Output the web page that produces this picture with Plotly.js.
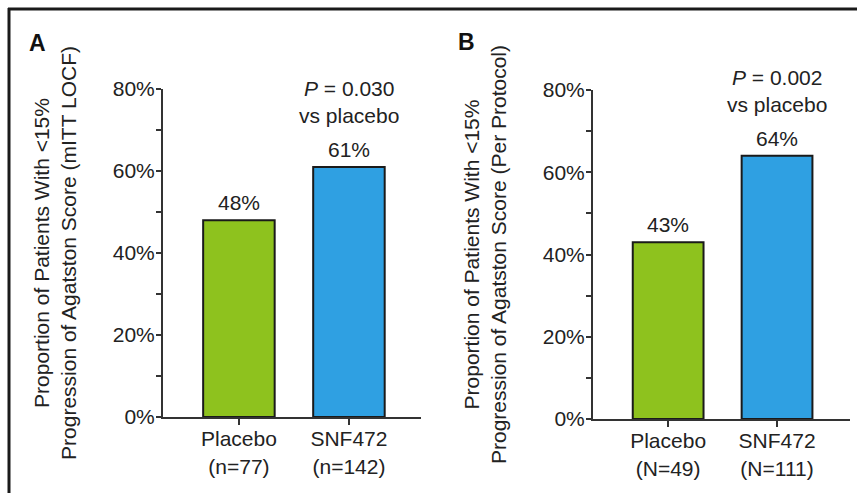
<!DOCTYPE html>
<html>
<head>
<meta charset="utf-8">
<script src="https://cdn.plot.ly/plotly-3.0.1.min.js"></script>
<style>html,body{margin:0;padding:0;background:#fff;}</style>
</head>
<body>
<div id="chart" style="width:857px;height:493px;"></div>
<script>
// ---- Data ----
const groupsA = ['Placebo<br>(n=77)', 'SNF472<br>(n=142)'];
const valuesA = [48, 61];
const groupsB = ['Placebo<br>(N=49)', 'SNF472<br>(N=111)'];
const valuesB = [43, 64];
const pValueA = '<i>P</i> = 0.030<br>vs placebo';
const pValueB = '<i>P</i> = 0.002<br>vs placebo';
const yTitleA = 'Proportion of Patients With &lt;15%<br>Progression of Agatston Score (mITT LOCF)';
const yTitleB = 'Proportion of Patients With &lt;15%<br>Progression of Agatston Score (Per Protocol)';
const yTicks = [0, 20, 40, 60, 80];
const yTickLabels = ['0%', '20%', '40%', '60%', '80%'];
const barColors = ['#8EC21E', '#2FA0E2'];

const FONT = '"Liberation Sans", Arial, Helvetica, sans-serif';
const TXT = '#222222';
const FS = 21;

const traces = [
  {type:'bar', x: groupsA, y: valuesA, xaxis:'x', yaxis:'y', width:0.65,
   marker:{color: barColors, line:{color:'#1a1a1a', width:2}}, hoverinfo:'none', showlegend:false},
  {type:'bar', x: groupsB, y: valuesB, xaxis:'x2', yaxis:'y2', width:0.65,
   marker:{color: barColors, line:{color:'#1a1a1a', width:2}}, hoverinfo:'none', showlegend:false}
];

function yAxis(domain, title, anchor){
  return {
    domain: domain, anchor: anchor, range:[0,80], tickmode:'array',
    tickvals: yTicks, ticktext: yTickLabels,
    showgrid:false, zeroline:false, showline:true, linecolor:'#333', linewidth:2,
    ticks:'outside', ticklen:5, tickwidth:2, tickcolor:'#333',
    minor:{dtick:10, ticks:'outside', ticklen:5, tickwidth:2, tickcolor:'#333'},
    tickfont:{family:FONT, size:FS, color:TXT},
    ticklabelstandoff: -3,
    title:{text:title, font:{family:FONT, size:FS, color:TXT}, standoff: 30},
    fixedrange:true
  };
}
function xAxis(domain, range, anchor){
  return {
    domain: domain, anchor: anchor, range: range, type:'category',
    showgrid:false, zeroline:false, showline:true, linecolor:'#333', linewidth:2,
    ticks:'outside', ticklen:6, tickwidth:2, tickcolor:'#333',
    ticklabelstandoff: -4,
    tickfont:{family:FONT, size:FS, color:TXT}, fixedrange:true
  };
}

const annotations = [];
function addLabels(groups, values, xr, yr, pText){
  groups.forEach((g, i) => {
    annotations.push({xref:xr, yref:yr, x:g, y:values[i], text: values[i] + '%',
      showarrow:false, yanchor:'bottom', yshift:4,
      font:{family:FONT, size:FS, color:TXT}});
  });
  const last = groups.length - 1;
  annotations.push({xref:xr, yref:yr, x:groups[last], y:values[last], text:pText,
    showarrow:false, yanchor:'bottom', yshift:38,
    font:{family:FONT, size:FS, color:TXT}});
}
addLabels(groupsA, valuesA, 'x', 'y', pValueA);
addLabels(groupsB, valuesB, 'x2', 'y2', pValueB);

annotations.push({xref:'paper', yref:'paper', x:37/857, y:1-43/493, text:'<b>A</b>',
  showarrow:false, xanchor:'center', yanchor:'middle', font:{family:FONT, size:23, color:'#111'}});
annotations.push({xref:'paper', yref:'paper', x:466/857, y:1-42/493, text:'<b>B</b>',
  showarrow:false, xanchor:'center', yanchor:'middle', font:{family:FONT, size:23, color:'#111'}});

const layout = {
  width:857, height:493, autosize:false,
  margin:{l:0, r:0, t:0, b:0, pad:0},
  paper_bgcolor:'#ffffff', plot_bgcolor:'#ffffff',
  font:{family:FONT, color:TXT},
  showlegend:false,
  xaxis: xAxis([163/857, 421/857], [-0.69, 1.655], 'y'),
  yaxis: yAxis([76/493, 404/493], yTitleA, 'x'),
  xaxis2: xAxis([593/857, 850/857], [-0.69, 1.67], 'y2'),
  yaxis2: yAxis([74/493, 403/493], yTitleB, 'x2'),
  annotations: annotations,
  shapes: [
    {type:'line', xref:'paper', yref:'paper', x0:8/857, x1:1, y0:1-9/493, y1:1-9/493,
     line:{color:'#1a1a1a', width:3}},
    {type:'line', xref:'paper', yref:'paper', x0:9/857, x1:9/857, y0:0, y1:1-8/493,
     line:{color:'#1a1a1a', width:3}}
  ]
};

Plotly.newPlot('chart', traces, layout, {staticPlot:true, displayModeBar:false});
</script>
</body>
</html>
